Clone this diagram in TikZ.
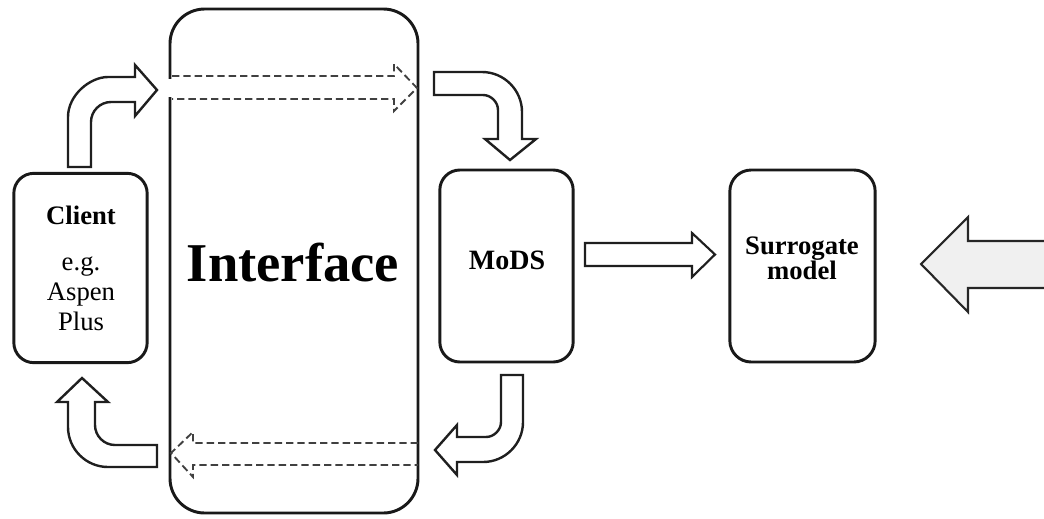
\documentclass[tikz,border=0pt]{standalone}
\usepackage{fontspec}
\setmainfont{Liberation Serif}
\begin{document}
\begin{tikzpicture}[x=0.75pt,y=-0.75pt,
  box/.style={draw=black!90, line width=2.2pt, fill=white, inner sep=0pt},
  boxtext/.style={align=center, inner sep=0pt},
  fatarrow/.style={draw=black!88, line width=1.8pt, fill=white, line join=miter},
  dasharrow/.style={draw=black!75, line width=1.4pt, dash pattern=on 5.5pt off 3pt}
]
\useasboundingbox (0,0) rectangle (1044,518);

% boxes
\node[box, rounded corners=26pt, minimum width=186pt, minimum height=378pt] (iface) at (294,261) {};
\node[box, rounded corners=15pt, minimum width=100pt, minimum height=142pt] (client) at (80.5,268) {};
\node[box, rounded corners=15pt, minimum width=100pt, minimum height=144pt] (mods) at (506.5,266) {};
\node[box, rounded corners=16pt, minimum width=109pt, minimum height=144pt] (surr) at (802.5,266) {};

% box labels
\node[boxtext, font=\bfseries\fontsize{41}{45}\selectfont] (ifacetext) at (293,263) {Interface};
\node[boxtext, font=\fontsize{20}{22.5}\selectfont] (clienttext) at (81,268)
  {\textbf{Client}\\[12pt] e.g.\\ Aspen\\ Plus};
\node[boxtext, font=\bfseries\fontsize{21}{24}\selectfont] (modstext) at (507,260) {MoDS};
\node[boxtext, font=\bfseries\fontsize{20}{19}\selectfont] (surrtext) at (802,258) {Surrogate\\ model};

% small break in the interface border where the upper arrow enters
\draw[white, line width=3pt] (170,79) -- (170,97);

% client -> interface (bent arrow, upper left)
\draw[fatarrow] (68,167) -- (68,117) .. controls (68,95) and (90,77) .. (108,77)
  -- (135,77) -- (135,65) -- (157,90) -- (135,116) -- (135,102) -- (111,102)
  .. controls (100,102) and (91,111) .. (91,122) -- (91,167) -- cycle;

% interface -> MoDS (bent arrow, upper right)
\draw[fatarrow] (434,72) -- (482,72) .. controls (504,72) and (522,90) .. (522,112)
  -- (522,139) -- (536,139) -- (510,160) -- (485,139) -- (498,139) -- (498,110)
  .. controls (498,102) and (491,95) .. (483,95) -- (434,95) -- cycle;

% MoDS -> interface (bent arrow, lower right)
\draw[fatarrow] (501,375) -- (523,375) -- (523,422) .. controls (523,444) and (505,462) .. (483,462)
  -- (457,462) -- (457,475) -- (435,450) -- (457,425) -- (457,437) -- (486,437)
  .. controls (494,437) and (501,430) .. (501,422) -- cycle;

% interface -> client (bent arrow, lower left)
\draw[fatarrow] (157,445) -- (115,445) .. controls (104,445) and (95,436) .. (95,425)
  -- (95,402) -- (108,402) -- (82,378) -- (57,402) -- (68,402) -- (68,427)
  .. controls (68,449) and (86,467) .. (108,467) -- (157,467) -- cycle;

% MoDS -> surrogate model
\draw[fatarrow, line width=1.6pt] (585,243) -- (692,243) -- (692,233) -- (715,254.5) -- (692,277)
  -- (692,266) -- (585,266) -- cycle;

% large grey arrow entering from the right edge
\begin{scope}
\clip (0,0) rectangle (1044,518);
\draw[draw=black!85, line width=1.6pt, fill=black!6, line join=miter]
  (1050,241) -- (968,241) -- (968,217) -- (921,264) -- (968,312) -- (968,288) -- (1050,288);
\end{scope}

% dashed arrows through the interface
\draw[dasharrow] (172,76) -- (394,76) -- (394,64) -- (417,88) -- (394,111) -- (394,99) -- (172,99);
\draw[dasharrow] (418,443) -- (193,443) -- (193,432) -- (171,453) -- (193,477) -- (193,465) -- (418,465);
\end{tikzpicture}
\end{document}
